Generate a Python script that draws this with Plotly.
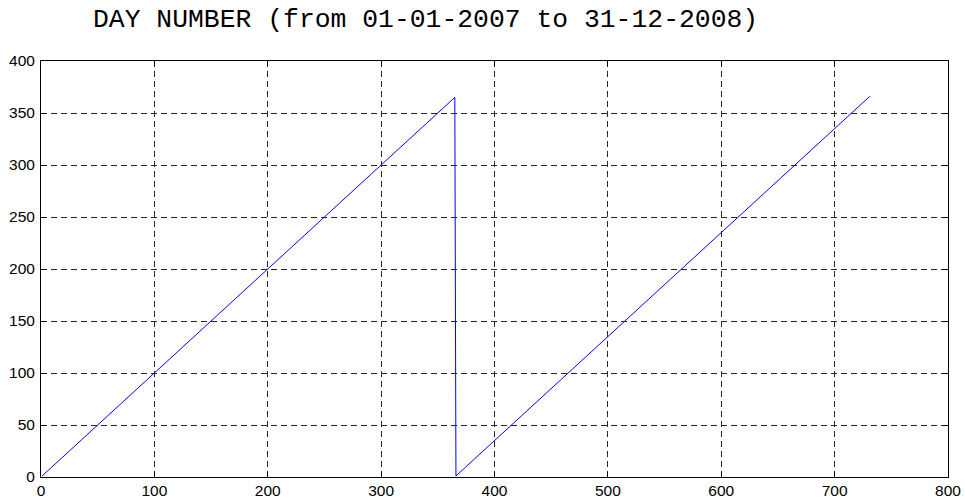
import plotly.graph_objects as go

# Data: breakpoints of the day-of-year sawtooth (sample index vs day number)
sample_index = [1, 365, 366, 731]
day_number = [1, 365, 1, 366]

x_ticks = [0, 100, 200, 300, 400, 500, 600, 700, 800]
y_ticks = [0, 50, 100, 150, 200, 250, 300, 350, 400]
title_text = "DAY NUMBER (from 01-01-2007 to 31-12-2008)"

W, H = 965, 502
L, R, T, B = 41, 17, 61, 25

fig = go.Figure()
fig.add_trace(go.Scatter(
    x=sample_index, y=day_number, mode="lines",
    line=dict(color="#0000ff", width=1), showlegend=False,
    hoverinfo="skip",
))

axis_common = dict(
    showline=True, linecolor="black", linewidth=1, mirror="ticks",
    ticks="inside", ticklen=5, tickcolor="black", tickwidth=1,
    showgrid=True, gridcolor="rgb(40,40,40)", gridwidth=1,
    griddash="6px,4px", zeroline=False, automargin=False,
    tickfont=dict(family="Liberation Sans, Arial, sans-serif", size=15.5, color="black"),
)

fig.update_xaxes(range=[0, 800], tickmode="array", tickvals=x_ticks,
                 ticktext=[str(v) for v in x_ticks], ticklabelstandoff=-1, **axis_common)
fig.update_yaxes(range=[0, 400], tickmode="array", tickvals=y_ticks,
                 ticktext=[str(v) for v in y_ticks], ticklabelstandoff=2, **axis_common)

fig.update_layout(
    width=W, height=H,
    margin=dict(l=L, r=R, t=T, b=B, pad=0, autoexpand=False),
    paper_bgcolor="white", plot_bgcolor="white",
    title=dict(text=title_text, xref="container", yref="container",
               x=93 / W, xanchor="left", y=1 - 17.5 / H, yanchor="middle",
               automargin=False,
               font=dict(family="Liberation Mono, Courier New, monospace", size=26.4, color="black")),
)

# remove the default page margin so the figure fills the window exactly
fig.write_html("out.html",
               config={"displayModeBar": False, "staticPlot": True},
               post_script="document.body.style.margin='0';document.body.style.overflow='hidden';")
